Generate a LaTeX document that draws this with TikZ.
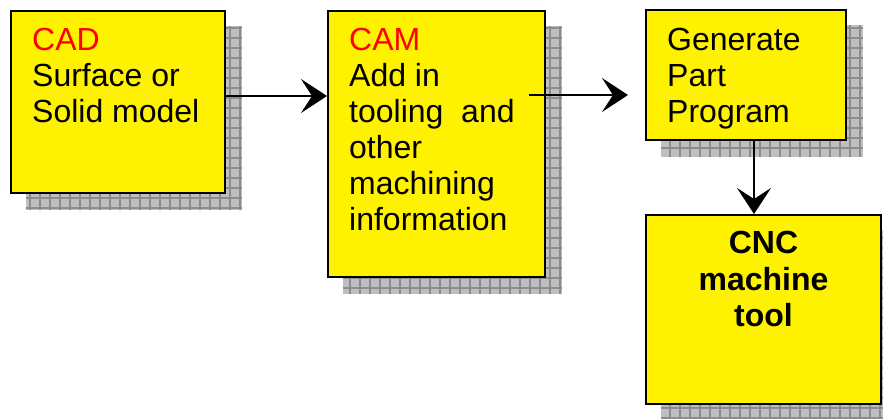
\documentclass[tikz,border=0pt]{standalone}
\usepackage{fontspec}
\setmainfont{Liberation Sans}
\usepackage{tikz}
\usetikzlibrary{arrows.meta,positioning,calc}
\usepackage{xcolor}
\pgfdeclarelayer{background}
\pgfsetlayers{background,main}

\begin{document}
\begin{tikzpicture}[x=1pt, y=1pt,
        box/.style={draw=black, line width=2pt, fill=yellow,
                    anchor=north west, inner sep=0pt},
        shadowbox/.style={fill=black!25,
                    path picture={\draw[black!45, line width=1.2pt]
                      (path picture bounding box.south west) grid[step=10pt]
                      (path picture bounding box.north east);}},
        txt/.style={inner sep=0pt, align=left,
                    font=\fontsize{32pt}{36pt}\selectfont},
        arr/.style={-{Stealth[length=26pt, width=34pt, inset=11pt]},
                    line width=1.8pt, black}
      ]
        \useasboundingbox (0,0) rectangle (883,418);
        % boxes
        \node[box, minimum width=214pt, minimum height=182pt] (cad) at (10,408) {};
        \node[box, minimum width=217pt, minimum height=266pt] (cam) at (327,408) {};
        \node[box, minimum width=200pt, minimum height=130pt] (gen) at (645,409) {};
        \node[box, minimum width=235pt, minimum height=189pt] (cnc) at (645,204) {};
        % shadows
        \begin{pgfonlayer}{background}
        \foreach \b in {cad,cam,gen,cnc}
          \path[shadowbox] ($(\b.north west)+(16,-16)$) rectangle ($(\b.south east)+(16,-16)$);
        \end{pgfonlayer}
        % texts
        \node[txt, anchor=north west] (cadtxt) at ($(cad.north west)+(22,-18)$)
          {\textcolor{red}{CAD}\\Surface or\\Solid model};
        \node[txt, anchor=north west] (camtxt) at ($(cam.north west)+(22,-18)$)
          {\textcolor{red}{CAM}\\Add in\\tooling\ \ and\\other\\machining\\information};
        \node[txt, anchor=north west] (gentxt) at ($(gen.north west)+(22,-19)$)
          {Generate\\Part\\Program};
        \node[txt, align=center, anchor=north, font=\fontsize{32pt}{36.5pt}\selectfont\bfseries]
          (cnctxt) at ($(cnc.north)+(0,-17)$) {CNC\\machine\\tool};
        % connectors
        \draw[arr] ([yshift=6]cad.east) -- ([yshift=6]cad.east -| cam.west);
        \draw[arr] ([xshift=-17, yshift=49]cam.east) -- ([xshift=-17, yshift=49]cam.east -| gen.west);
        \draw[arr] ([xshift=8]gen.south) -- ([xshift=8]gen.south |- cnc.north);
      \end{tikzpicture}
\end{document}
